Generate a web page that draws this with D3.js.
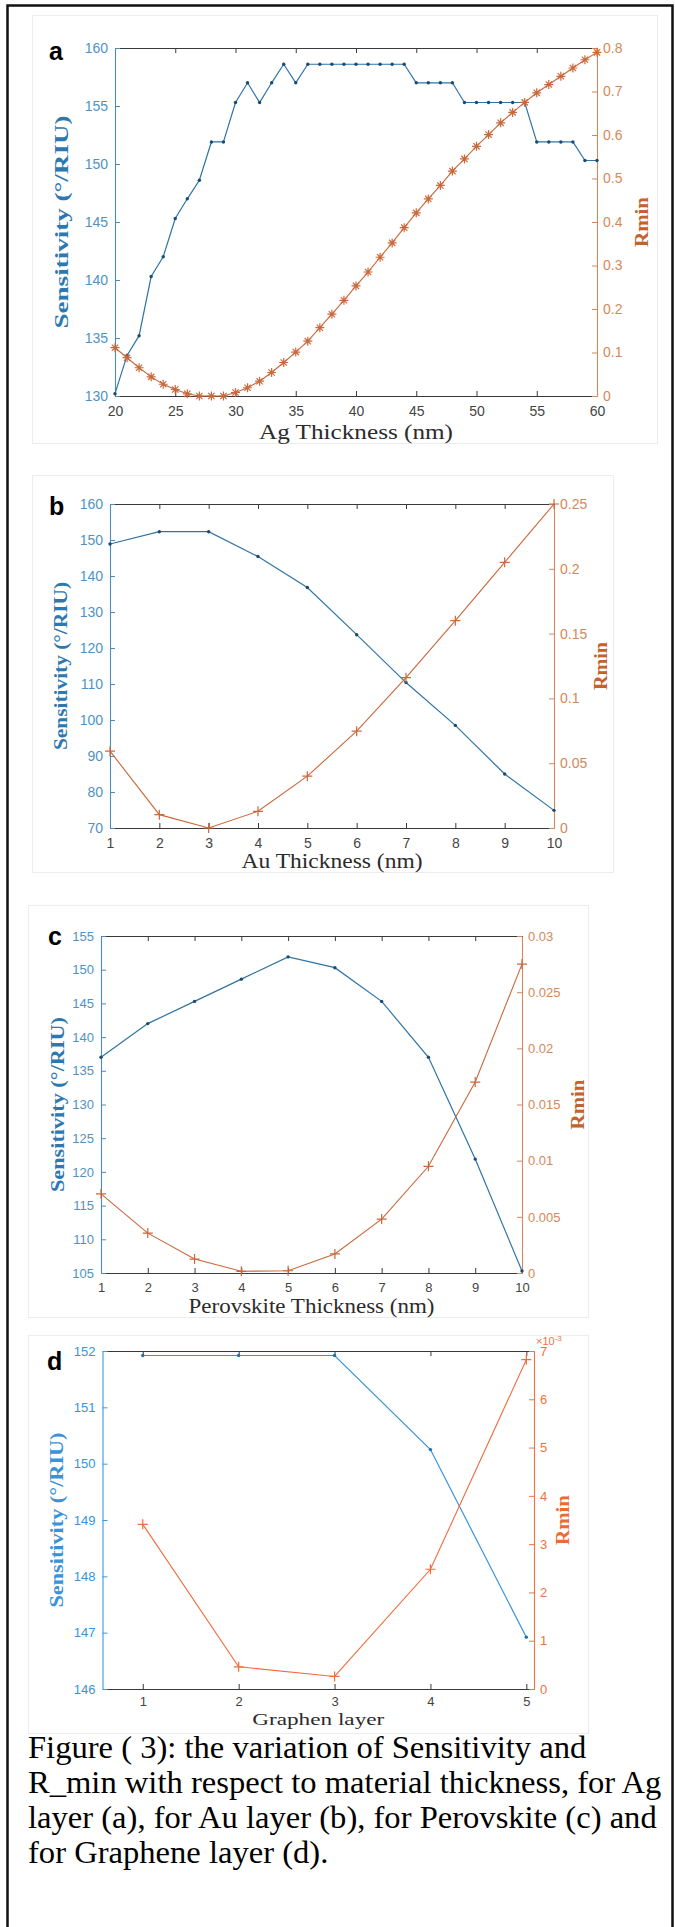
<!DOCTYPE html>
<html>
<head>
<meta charset="utf-8">
<script src="https://cdn.jsdelivr.net/npm/d3@7"></script>
<style>
  body { margin: 0; background: #fff; }
  svg { display: block; }
  .tick text { font-family: "Liberation Sans", Arial, sans-serif; }
  .axis-title { font-family: "Liberation Serif", "DejaVu Serif", serif; }
  .caption { font-family: "Liberation Serif", "Times New Roman", serif; fill: #000; }
</style>
</head>
<body>
<div id="chart"></div>
<script>
// ---- data ----
// (a) Ag layer
const agThickness = [20, 21, 22, 23, 24, 25, 26, 27, 28, 29, 30, 31, 32, 33, 34, 35, 36, 37, 38, 39, 40,
  41, 42, 43, 44, 45, 46, 47, 48, 49, 50, 51, 52, 53, 54, 55, 56, 57, 58, 59, 60];
const agSensitivity = [130.2, 133.5, 135.2, 140.3, 142.0, 145.3, 147.0, 148.6, 151.9, 151.9, 155.3,
  157.0, 155.3, 157.0, 158.6, 157.0, 158.6, 158.6, 158.6, 158.6, 158.6, 158.6, 158.6, 158.6, 158.6,
  157.0, 157.0, 157.0, 157.0, 155.3, 155.3, 155.3, 155.3, 155.3, 155.3, 151.9, 151.9, 151.9, 151.9,
  150.3, 150.3];
const agRmin = [0.111, 0.088, 0.065, 0.044, 0.027, 0.015, 0.005, 0.0, 0.0, 0.0, 0.008, 0.019, 0.034,
  0.054, 0.077, 0.101, 0.126, 0.157, 0.188, 0.220, 0.253, 0.285, 0.319, 0.352, 0.387, 0.421, 0.453,
  0.484, 0.517, 0.545, 0.574, 0.601, 0.628, 0.652, 0.675, 0.697, 0.716, 0.735, 0.754, 0.773, 0.790];

// (b) Au layer
const auThickness = [1, 2, 3, 4, 5, 6, 7, 8, 9, 10];
const auSensitivity = [148.9, 152.3, 152.3, 145.4, 136.8, 123.7, 110.4, 98.5, 85.0, 74.9];
const auRmin = [0.0593, 0.0103, 0.0, 0.0129, 0.040, 0.0747, 0.116, 0.160, 0.205, 0.250];

// (c) Perovskite layer
const pvThickness = [1, 2, 3, 4, 5, 6, 7, 8, 9, 10];
const pvSensitivity = [137.0, 142.0, 145.3, 148.6, 151.9, 150.3, 145.3, 137.0, 121.9, 105.3];
const pvRmin = [0.00705, 0.00355, 0.00124, 0.00015, 0.0002, 0.0017, 0.0048, 0.0095, 0.0170, 0.0275];

// (d) Graphene layers
const grLayers = [1, 2, 3, 4, 5];
const grSensitivity = [151.92, 151.92, 151.92, 150.25, 146.92];
const grRmin = [0.00341, 0.00046, 0.00026, 0.00248, 0.00682];

// tick values
const agXTicks = [20, 25, 30, 35, 40, 45, 50, 55, 60];
const agSTicks = [130, 135, 140, 145, 150, 155, 160];
const agRTicks = [0, 0.1, 0.2, 0.3, 0.4, 0.5, 0.6, 0.7, 0.8];
const auXTicks = [1, 2, 3, 4, 5, 6, 7, 8, 9, 10];
const auSTicks = [70, 80, 90, 100, 110, 120, 130, 140, 150, 160];
const auRTicks = [0, 0.05, 0.1, 0.15, 0.2, 0.25];
const pvXTicks = [1, 2, 3, 4, 5, 6, 7, 8, 9, 10];
const pvSTicks = [105, 110, 115, 120, 125, 130, 135, 140, 145, 150, 155];
const pvRTicks = [0, 0.005, 0.01, 0.015, 0.02, 0.025, 0.03];
const grXTicks = [1, 2, 3, 4, 5];
const grSTicks = [146, 147, 148, 149, 150, 151, 152];
const grRTicks = [0, 0.001, 0.002, 0.003, 0.004, 0.005, 0.006, 0.007];

const captionLines = [
  'Figure ( 3): the variation of Sensitivity and',
  'R_min with respect to material thickness, for Ag',
  'layer (a), for Au layer (b), for Perovskite (c) and',
  'for Graphene layer (d).'
];

const W = 675, H = 1927;

const svg = d3.select('#chart').append('svg')
    .attr('width', W)
    .attr('height', H);

// outer frame
svg.append('path')
    .attr('d', `M7.5,1932 V5.5 H672.5 V1932`)
    .attr('fill', 'none')
    .attr('stroke', '#111')
    .attr('stroke-width', 2.5);

class DualAxisPanel {

  constructor(_config, _x, _sens, _rmin) {
    this.config = _config;
    this.x = _x;
    this.sens = _sens;
    this.rmin = _rmin;
    this.initVis();
  }

  initVis() {
    let vis = this;
    const c = vis.config;

    // light frame of the pasted image
    svg.append('rect')
        .attr('x', c.box[0] + 0.5).attr('y', c.box[1] + 0.5)
        .attr('width', c.box[2] - c.box[0]).attr('height', c.box[3] - c.box[1])
        .attr('fill', '#fff')
        .attr('stroke', '#ececec');

    vis.xScale = d3.scaleLinear().domain(c.xDomain).range([c.left, c.right]);
    vis.yScale = d3.scaleLinear().domain(c.sDomain).range([c.bottom, c.top]);
    vis.rScale = d3.scaleLinear().domain(c.rDomain).range([c.bottom, c.top]);

    vis.g = svg.append('g');
    vis.renderVis();
  }

  renderVis() {
    let vis = this;
    const c = vis.config;
    const plain = d => String(d);

    const styleAxis = (g, color, textColor) => {
      g.select('.domain').attr('stroke', color).attr('stroke-width', 1.1);
      g.selectAll('.tick line').attr('stroke', color);
      g.selectAll('.tick text').attr('fill', textColor).attr('font-size', c.tickFont);
    };

    // top & bottom axes
    vis.g.append('g')
        .attr('transform', `translate(0,${c.top})`)
        .call(d3.axisTop(vis.xScale).tickValues(c.xTicks).tickSize(-5).tickSizeOuter(0).tickFormat(''))
        .call(g => styleAxis(g, '#3a3a3a', '#444'));

    vis.g.append('g')
        .attr('transform', `translate(0,${c.bottom})`)
        .call(d3.axisBottom(vis.xScale).tickValues(c.xTicks).tickSize(-5).tickSizeOuter(0)
          .tickPadding(c.xPad).tickFormat(plain))
        .call(g => styleAxis(g, '#3a3a3a', '#444'));

    // left (sensitivity) axis
    vis.g.append('g')
        .attr('transform', `translate(${c.left},0)`)
        .call(d3.axisLeft(vis.yScale).tickValues(c.sTicks).tickSize(-5).tickSizeOuter(0)
          .tickPadding(7).tickFormat(plain))
        .call(g => styleAxis(g, c.blueAxis, c.blueText));

    // right (Rmin) axis
    vis.g.append('g')
        .attr('transform', `translate(${c.right},0)`)
        .call(d3.axisRight(vis.rScale).tickValues(c.rTicks).tickSize(-5).tickSizeOuter(0).tickPadding(6)
          .tickFormat(c.rFormat))
        .call(g => styleAxis(g, c.orangeAxis, c.orangeText));

    // sensitivity line + dot markers
    const sLine = d3.line().x((d, i) => vis.xScale(vis.x[i])).y(d => vis.yScale(d));
    vis.g.append('path')
        .datum(vis.sens)
        .attr('d', sLine)
        .attr('fill', 'none')
        .attr('stroke', c.blue)
        .attr('stroke-width', 1.2);

    vis.g.selectAll('.s-dot')
        .data(vis.sens)
      .join('circle')
        .attr('class', 's-dot')
        .attr('cx', (d, i) => vis.xScale(vis.x[i]))
        .attr('cy', d => vis.yScale(d))
        .attr('r', 1.7)
        .attr('fill', c.blueDot);

    // Rmin line + plus / asterisk markers
    const rLine = d3.line().x((d, i) => vis.xScale(vis.x[i])).y(d => vis.rScale(d));
    vis.g.append('path')
        .datum(vis.rmin)
        .attr('d', rLine)
        .attr('fill', 'none')
        .attr('stroke', c.orange)
        .attr('stroke-width', 1.1);

    const m = c.markerSize;
    const markerPath = c.asterisk
      ? `M${-m},0H${m}M0,${-m}V${m}M${-m * 0.7},${-m * 0.7}L${m * 0.7},${m * 0.7}M${-m * 0.7},${m * 0.7}L${m * 0.7},${-m * 0.7}`
      : `M${-m},0H${m}M0,${-m}V${m}`;
    vis.g.selectAll('.r-mark')
        .data(vis.rmin)
      .join('path')
        .attr('class', 'r-mark')
        .attr('transform', (d, i) => `translate(${vis.xScale(vis.x[i])},${vis.rScale(d)})`)
        .attr('d', markerPath)
        .attr('fill', 'none')
        .attr('stroke', c.orange)
        .attr('stroke-width', 1.2);

    // axis titles
    const midY = (c.top + c.bottom) / 2;
    vis.g.append('text')
        .attr('class', 'axis-title')
        .attr('transform', `translate(${c.sTitleX},${midY}) rotate(-90)`)
        .attr('text-anchor', 'middle')
        .attr('dy', '0.35em')
        .attr('font-size', 19)
        .attr('font-weight', 'bold')
        .attr('fill', c.blueTitle)
        .attr('textLength', c.sTitleLen)
        .attr('lengthAdjust', 'spacingAndGlyphs')
        .text('Sensitivity (°/RIU)');

    vis.g.append('text')
        .attr('class', 'axis-title')
        .attr('transform', `translate(${c.rTitleX},${midY}) rotate(-90)`)
        .attr('text-anchor', 'middle')
        .attr('dy', '0.35em')
        .attr('font-size', 19)
        .attr('font-weight', 'bold')
        .attr('fill', c.orangeTitle)
        .attr('textLength', c.rTitleLen)
        .attr('lengthAdjust', 'spacingAndGlyphs')
        .text('Rmin');

    vis.g.append('text')
        .attr('class', 'axis-title')
        .attr('x', (c.left + c.right) / 2)
        .attr('y', c.xTitleY)
        .attr('text-anchor', 'middle')
        .attr('font-size', c.xTitleFont)
        .attr('fill', '#2b2b2b')
        .attr('textLength', c.xTitleLen)
        .attr('lengthAdjust', 'spacingAndGlyphs')
        .text(c.xTitle);

    // panel letter
    vis.g.append('text')
        .attr('x', c.letter[0])
        .attr('y', c.letter[1])
        .attr('font-family', '"Liberation Sans", Arial, sans-serif')
        .attr('font-weight', 'bold')
        .attr('font-size', 25)
        .attr('fill', '#000')
        .text(c.id);

    if (c.exponent) {
      vis.g.append('text')
          .attr('x', c.right + 2)
          .attr('y', c.top - 6)
          .attr('font-family', '"Liberation Sans", Arial, sans-serif')
          .attr('font-size', 11)
          .attr('fill', c.orangeText)
          .html('×10<tspan dy="-4" font-size="8">-3</tspan>');
    }
  }
}

const classic = {
  blue: '#2f74a6', blueDot: '#1b4a70', blueAxis: '#4a8dbd', blueText: '#4f93c4', blueTitle: '#2d78b0',
  orange: '#c9683a', orangeAxis: '#d08a5e', orangeText: '#d4895a', orangeTitle: '#c4622c'
};
const bright = {
  blue: '#3b93d8', blueDot: '#1f6fb2', blueAxis: '#3d98de', blueText: '#3a93d8', blueTitle: '#3a93d8',
  orange: '#f06c3c', orangeAxis: '#f0733f', orangeText: '#f0733f', orangeTitle: '#ec6a34'
};
const fmtR = d => String(+d.toFixed(4));

new DualAxisPanel(Object.assign({
  id: 'a', box: [32, 15, 657, 443], left: 115, right: 597, top: 48, bottom: 396,
  xDomain: [20, 60], sDomain: [130, 160], rDomain: [0, 0.8],
  xTicks: agXTicks, sTicks: agSTicks, rTicks: agRTicks, rFormat: fmtR,
  xTitle: 'Ag Thickness (nm)', xTitleY: 439, xTitleLen: 194, xTitleFont: 20,
  sTitleX: 61, sTitleLen: 213, rTitleX: 641, rTitleLen: 50,
  letter: [49, 60], tickFont: 14, xPad: 10, markerSize: 4.5, asterisk: true
}, classic), agThickness, agSensitivity, agRmin);

new DualAxisPanel(Object.assign({
  id: 'b', box: [32, 475, 613, 872], left: 110, right: 554, top: 504, bottom: 828,
  xDomain: [1, 10], sDomain: [70, 160], rDomain: [0, 0.25],
  xTicks: auXTicks, sTicks: auSTicks, rTicks: auRTicks, rFormat: fmtR,
  xTitle: 'Au Thickness (nm)', xTitleY: 868, xTitleLen: 181, xTitleFont: 20,
  sTitleX: 60, sTitleLen: 168, rTitleX: 600, rTitleLen: 48,
  letter: [49, 515], tickFont: 14, xPad: 10, markerSize: 5, asterisk: false
}, classic), auThickness, auSensitivity, auRmin);

new DualAxisPanel(Object.assign({
  id: 'c', box: [28, 905, 588, 1317], left: 101, right: 522, top: 936, bottom: 1273,
  xDomain: [1, 10], sDomain: [105, 155], rDomain: [0, 0.03],
  xTicks: pvXTicks, sTicks: pvSTicks, rTicks: pvRTicks, rFormat: fmtR,
  xTitle: 'Perovskite Thickness (nm)', xTitleY: 1313, xTitleLen: 246, xTitleFont: 20,
  sTitleX: 57, sTitleLen: 175, rTitleX: 577, rTitleLen: 50,
  letter: [48, 945], tickFont: 13, xPad: 10, markerSize: 5, asterisk: false
}, classic), pvThickness, pvSensitivity, pvRmin);

new DualAxisPanel(Object.assign({
  id: 'd', box: [28, 1335, 588, 1733], left: 102.5, right: 534, top: 1351, bottom: 1689,
  xDomain: [0.58, 5.08], sDomain: [146, 152], rDomain: [0, 0.007],
  xTicks: grXTicks, sTicks: grSTicks, rTicks: grRTicks, rFormat: d => String(Math.round(d * 1000)),
  xTitle: 'Graphen layer', xTitleY: 1725, xTitleLen: 132, xTitleFont: 16,
  sTitleX: 56, sTitleLen: 175, rTitleX: 562, rTitleLen: 50,
  letter: [47, 1370], tickFont: 13, xPad: 8, markerSize: 5, asterisk: false, exponent: true
}, bright), grLayers, grSensitivity, grRmin);

// caption
svg.append('g')
  .selectAll('text')
  .data(captionLines)
  .join('text')
    .attr('class', 'caption')
    .attr('x', 28)
    .attr('y', (d, i) => 1758 + i * 35)
    .attr('font-size', 32.6)
    .text(d => d);
</script>
</body>
</html>
